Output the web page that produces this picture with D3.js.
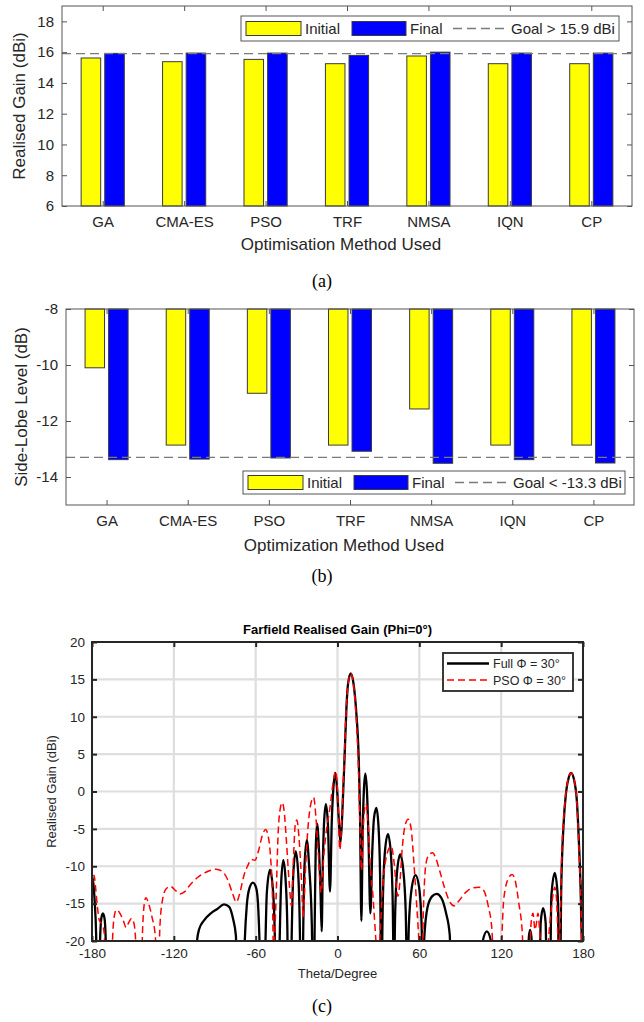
<!DOCTYPE html>
<html><head><meta charset="utf-8">
<script src="https://cdn.jsdelivr.net/npm/d3@7"></script>
<style>
html,body{margin:0;padding:0;background:#fff;}
svg{display:block;}
text{font-family:"Liberation Sans",Arial,Helvetica,sans-serif;}
</style></head>
<body>
<svg id="chart" width="644" height="1022"></svg>
<script>
// ---------- Data ----------
const categories = ["GA","CMA-ES","PSO","TRF","NMSA","IQN","CP"];
const gainInitial = [15.62,15.38,15.53,15.25,15.75,15.25,15.25];
const gainFinal   = [15.92,15.94,15.94,15.79,16.0,15.94,15.94];
const gainGoal = 15.9;
const gainTicks = [6,8,10,12,14,16,18];

const sllInitial = [-10.1,-12.86,-11.01,-12.86,-11.57,-12.86,-12.86];
const sllFinal   = [-13.38,-13.36,-13.32,-13.08,-13.51,-13.38,-13.5];
const sllGoal = -13.3;
const sllTicks = [-14,-12,-10,-8];

const thetaTicks = [-180,-120,-60,0,60,120,180];
const farGainTicks = [-20,-15,-10,-5,0,5,10,15,20];

const fullTheta = [-180,-179,-178,-177,-176.3,-174.5,-174,-173.2,-172,-170.8,-170,-169.5,-104,-103,-101.4,-97.7,-92.9,-88,-83.2,-79.6,-76.5,-74.5,-73.5,
 -69,-68,-66.5,-64.5,-62,-59.5,-58,-57.2,-56.5,
 -53.5,-52.8,-51.8,-49.5,-47.2,-46,-45.3,
 -43,-42.3,-41.3,-39.7,-38,-36.8,-36.2,
 -34.2,-33.5,-32.4,-30.6,-28.8,-27.6,-27,
 -25.7,-25,-24.2,-22.5,-20.8,-18.8,-18,
 -17.3,-16.6,-16,-15,-13.8,-12.5,-11.6,
 -10.8,-9.8,-8.5,-7,-5.5,
 -4.2,-3,-1.5,-0.2,1,2.2,
 3.5,5.3,6.6,7.8,9.7,11.7,13.8,15.5,16.5,17.5,
 18.5,19.3,20.4,21.6,22.7,24.1,
 25.5,26.8,28.5,30,31.2,32.2,
 33.2,34.8,37,39.2,40.5,41.4,
 42.2,43.8,46,48.2,50,51.2,
 52.3,54.5,57.2,59.8,61.7,62.6,
 63.5,66,69.5,72.7,76,79.5,82.3,83.5,
 105.5,106.5,109.5,112.5,114,
 139.5,140.3,141.2,142.2,143,
 148,149,150.8,152.6,153.5,
 155.8,156.8,159.3,161.5,162.5,
 163.2,164,165.7,167.6,169.6,171.3,173.4,175.6,177,178.3,179.2,179.6,180];
const fullGain = [-11.3,-12.3,-14.8,-19,-26,-26,-19.5,-17,-16.3,-17,-19.5,-26,-26,-20,-18.4,-17.2,-16.3,-15.7,-15.1,-15.4,-17.1,-19.3,-26,
 -26,-20,-15.2,-12.9,-12.2,-13,-16,-20,-26,
 -26,-20,-13.5,-10.5,-13.5,-19,-26,
 -26,-19,-12.2,-9.2,-12,-18,-26,
 -26,-18.5,-11,-8,-11,-18.5,-26,
 -26,-17,-10,-6.5,-10,-18,-26,
 -26,-16,-8,-4.3,-7,-13,-18.7,
 -10,-4,-1.7,-4.5,-13.4,
 -4,0.5,2.5,0,-4,-6.8,
 -3,5.2,11.4,14.5,15.8,14.5,10.5,4.7,-3,-17.3,
 -5,0,2.4,0,-6,-16.3,
 -8,-3.5,-2.2,-4.5,-11,-26,
 -15,-8,-5.7,-8.5,-15,-26,
 -17,-10.5,-8.4,-10.5,-16,-26,
 -18,-12.8,-11.2,-12.8,-18,-26,
 -20,-15.5,-14,-13.7,-14.2,-16.2,-19.2,-26,
 -26,-20,-18.7,-20,-26,
 -26,-19.5,-18.5,-19.5,-26,
 -26,-17.5,-15.6,-17.5,-26,
 -26,-14,-10.9,-14,-26,
 -26,-13.4,-4.6,-0.1,1.9,2.5,1.6,-1.5,-6.8,-13.4,-21,-26,-11.8];

const psoTheta = [-180,-178.5,-177.3,-176,-174.5,-172.5,-171,-170,
 -166,-165,-163.5,-162,-159.5,-157,-155,-153,-151,-149.3,-148,-147,
 -144,-143,-141.5,-140.5,-138.5,-136,-133.5,-132.5,
 -131.5,-130.2,-128,-125.6,-122.5,-118.5,-115.5,-112,-109,-102.6,-95.3,-89,-84.5,-80.5,-77,-74.2,-71.5,-68.7,-66,-63,-60.5,-58,-55,-52.7,-50.5,-49,-47.7,-46.9,
 -45,-43.5,-42,-40.6,-39,-37.5,-35.5,-33.7,-32.3,-31,-29.8,-28.3,-26.5,-25.1,-23.5,-21.5,-19.5,-17.5,-15.8,-14,-12,-10,-8,-5.6,-3.5,-1.3,0.3,1.7,3.3,
 5,6.4,7.7,9.7,11.7,13.5,15,16.3,17.6,19,20.8,22.5,24,26,28,29.8,
 31.5,33.5,36,39.3,41.5,43,44.3,45.8,47.5,49.5,51.8,54,56,58,59.5,61,
 61.7,62.8,64.9,67.3,69.8,72,74.6,78.2,81.9,85.5,89.1,94,98.9,103.7,107.4,110.5,113,114.6,
 119.5,121.9,125.6,128,130.4,132.9,135.3,136.5,
 140.5,142,143.3,144.8,145.7,147,148.3,149.5,
 153,155.5,157.5,159.3,160.8,162.2,163.5,164.5,165.7,167.6,169.6,171.4,173.6,175.6,177,178.5,179.4,180];
const psoGain = [-12.8,-11.2,-13,-15.5,-17.3,-17.8,-19,-26,
 -26,-20,-16.5,-15.8,-16.3,-17.3,-18.2,-17.5,-17,-17.6,-20,-26,
 -26,-19,-14.8,-14.2,-15,-16.8,-19.5,-26,
 -26,-18,-14.2,-13,-12.7,-13.3,-13.7,-13.4,-12.7,-11.5,-10.7,-10.4,-10.7,-11.8,-13.6,-14.8,-13.5,-11.3,-10,-9.1,-9.2,-8,-5.8,-5.1,-6.3,-9,-14,-22,
 -14,-5.5,-2.3,-1.5,-2.8,-6.5,-12,-15.3,-9,-4.5,-3.8,-6,-11.5,-16.8,-10.5,-4.5,-1.6,-0.8,-3.5,-8.5,-13.5,-8.5,-5,-2.3,0.8,2.7,-1,-7.8,-3,
 4.5,11,14.3,15.8,14.4,10.5,5,-3,-10.5,-4.5,-1.6,-4.5,-10,-14,-19.5,-24,
 -18,-12,-8.6,-7.3,-9.5,-12.5,-14,-12,-7.5,-4.6,-3.7,-5,-9.5,-15,-19.5,-26,
 -26,-17,-9.6,-8.4,-8.2,-8.9,-10.4,-12.7,-14.6,-15.3,-14.6,-13.5,-12.9,-12.8,-13.3,-15.3,-18,-22,
 -22,-14.4,-11.5,-11.1,-12,-14.9,-18.4,-22,
 -22,-17.5,-16.3,-18.5,-17.8,-16.3,-19,-23,
 -23,-18,-14.5,-12.8,-15,-22,-16,-8,-4,0,2,2.5,1.5,-1.8,-7.5,-15,-22,-14.5];

// ---------- Drawing ----------
const svg = d3.select("#chart");
svg.append("rect").attr("width",644).attr("height",1022).attr("fill","#fff");
const txtCol = "#262626";
const numFmt = d => String(d);   // plain hyphen-minus, no decimals

function barPanel(cfg){
  const g = svg.append("g");
  const x = d3.scaleLinear().domain([0.5, categories.length + 0.5]).range([cfg.left, cfg.right]);
  const y = d3.scaleLinear().domain(cfg.ydom).range([cfg.bottom, cfg.top]);
  const bw = x(1.24) - x(1);
  const off = 0.145;
  const base = cfg.base;
  const bars = [{vals: cfg.initial, col: "#ffff00", dx: -off}, {vals: cfg.final, col: "#0000ff", dx: off}];
  bars.forEach(s => {
    g.selectAll(null).data(s.vals).enter().append("rect")
      .attr("x", (d,i) => x(i + 1 + s.dx) - bw/2)
      .attr("width", bw)
      .attr("y", d => Math.min(y(d), y(base)))
      .attr("height", d => Math.abs(y(d) - y(base)))
      .attr("fill", s.col).attr("stroke", "#3a3a3a").attr("stroke-width", 1);
  });
  // goal line
  g.append("line").attr("x1", cfg.left).attr("x2", cfg.right)
    .attr("y1", y(cfg.goal)).attr("y2", y(cfg.goal))
    .attr("stroke", "#7a7a7a").attr("stroke-width", 1.3).attr("stroke-dasharray", "9,5");
  // axes
  const idx = d3.range(1, categories.length + 1);
  const ax = [
    g.append("g").attr("transform", `translate(0,${cfg.bottom})`).call(d3.axisBottom(x).tickValues(idx).tickFormat(i => categories[i-1]).tickSize(-5).tickPadding(10)),
    g.append("g").attr("transform", `translate(0,${cfg.top})`).call(d3.axisTop(x).tickValues(idx).tickFormat("").tickSize(-5)),
    g.append("g").attr("transform", `translate(${cfg.left},0)`).call(d3.axisLeft(y).tickValues(cfg.ticks).tickFormat(numFmt).tickSize(-5).tickPadding(8)),
    g.append("g").attr("transform", `translate(${cfg.right},0)`).call(d3.axisRight(y).tickValues(cfg.ticks).tickFormat("").tickSize(-5))
  ];
  ax.forEach(a => {
    a.select(".domain").remove();
    a.selectAll("line").attr("stroke", "#555");
    a.selectAll("text").attr("fill", txtCol).style("font-size", "15px");
  });
  g.append("rect").attr("x", cfg.left).attr("y", cfg.top).attr("width", cfg.right - cfg.left).attr("height", cfg.bottom - cfg.top)
    .attr("fill", "none").attr("stroke", "#555").attr("stroke-width", 1);
  // titles
  g.append("text").attr("x", (cfg.left + cfg.right)/2 - 6).attr("y", cfg.xTitleY).attr("text-anchor", "middle")
    .attr("fill", txtCol).style("font-size", "17px").text(cfg.xTitle);
  g.append("text").attr("transform", `translate(${cfg.yTitleX},${(cfg.top + cfg.bottom)/2}) rotate(-90)`)
    .attr("text-anchor", "middle").attr("fill", txtCol).style("font-size", "17px").text(cfg.yTitle);
  // legend
  const L = cfg.legend;
  const lg = g.append("g");
  lg.append("rect").attr("x", L.x).attr("y", L.y).attr("width", L.w).attr("height", L.h)
    .attr("fill", "#fff").attr("stroke", "#555").attr("stroke-width", 1);
  const cy = L.y + L.h/2;
  lg.append("rect").attr("x", L.x + 5).attr("y", cy - 7).attr("width", 55).attr("height", 14).attr("fill", "#ffff00").attr("stroke", "#3a3a3a");
  lg.append("text").attr("x", L.x + 64).attr("y", cy + 5.5).attr("fill", txtCol).style("font-size", "15px").text("Initial");
  lg.append("rect").attr("x", L.x + 111).attr("y", cy - 7).attr("width", 54).attr("height", 14).attr("fill", "#0000ff").attr("stroke", "#3a3a3a");
  lg.append("text").attr("x", L.x + 169).attr("y", cy + 5.5).attr("fill", txtCol).style("font-size", "15px").text("Final");
  lg.append("line").attr("x1", L.x + 212).attr("x2", L.x + 266).attr("y1", cy).attr("y2", cy)
    .attr("stroke", "#7a7a7a").attr("stroke-width", 1.3).attr("stroke-dasharray", "9,5");
  lg.append("text").attr("x", L.x + 270).attr("y", cy + 5.5).attr("fill", txtCol).style("font-size", "15px").text(L.label);
  // caption
  svg.append("text").attr("x", 322).attr("y", cfg.capY).attr("text-anchor", "middle")
    .style("font-family", "'Liberation Serif','Times New Roman',serif").style("font-size", "18px").attr("fill", "#000").text(cfg.cap);
}

barPanel({left: 62, right: 632, top: 6, bottom: 206, ydom: [6, 19], base: 6, ticks: gainTicks,
  initial: gainInitial, final: gainFinal, goal: gainGoal,
  xTitle: "Optimisation Method Used", yTitle: "Realised Gain (dBi)", xTitleY: 250, yTitleX: 25,
  legend: {x: 241, y: 16, w: 378, h: 25, label: "Goal > 15.9 dBi"}, cap: "(a)", capY: 287});

barPanel({left: 66, right: 634, top: 309, bottom: 505, ydom: [-15, -8], base: -8, ticks: sllTicks,
  initial: sllInitial, final: sllFinal, goal: sllGoal,
  xTitle: "Optimization Method Used", yTitle: "Side-Lobe Level (dB)", xTitleY: 551, yTitleX: 27,
  legend: {x: 243, y: 471, w: 382, h: 23, label: "Goal < -13.3 dBi"}, cap: "(b)", capY: 582});

// ---------- Panel (c) ----------
(function(){
  const left = 92, right = 583, top = 642, bottom = 941;
  const g = svg.append("g");
  const x = d3.scaleLinear().domain([-180, 180]).range([left, right]);
  const y = d3.scaleLinear().domain([-20, 20]).range([bottom, top]);
  // grid
  g.append("g").selectAll("line").data(thetaTicks).enter().append("line")
    .attr("x1", d => x(d)).attr("x2", d => x(d)).attr("y1", top).attr("y2", bottom)
    .attr("stroke", "#dedede").attr("stroke-width", 2.2);
  g.append("g").selectAll("line").data(farGainTicks).enter().append("line")
    .attr("x1", left).attr("x2", right).attr("y1", d => y(d)).attr("y2", d => y(d))
    .attr("stroke", "#dedede").attr("stroke-width", 2.2);
  const clipId = "clipC";
  svg.append("defs").append("clipPath").attr("id", clipId).append("rect")
    .attr("x", left).attr("y", top).attr("width", right - left).attr("height", bottom - top);
  const line = d3.line().x(d => x(d[0])).y(d => y(d[1])).curve(d3.curveMonotoneX);
  const pso = psoTheta.map((t,i) => [t, psoGain[i]]);
  const full = fullTheta.map((t,i) => [t, fullGain[i]]);
  const pg = g.append("g").attr("clip-path", `url(#${clipId})`);
  pg.append("path").datum(full).attr("d", line).attr("fill", "none").attr("stroke", "#000").attr("stroke-width", 2.3);
  pg.append("path").datum(pso).attr("d", line).attr("fill", "none").attr("stroke", "#ff0000").attr("stroke-width", 1.5).attr("stroke-dasharray", "7,4");
  // axes
  const ax = [
    g.append("g").attr("transform", `translate(0,${bottom})`).call(d3.axisBottom(x).tickValues(thetaTicks).tickFormat(numFmt).tickSize(-5).tickPadding(7)),
    g.append("g").attr("transform", `translate(0,${top})`).call(d3.axisTop(x).tickValues(thetaTicks).tickFormat("").tickSize(-5)),
    g.append("g").attr("transform", `translate(${left},0)`).call(d3.axisLeft(y).tickValues(farGainTicks).tickFormat(numFmt).tickSize(-5).tickPadding(7)),
    g.append("g").attr("transform", `translate(${right},0)`).call(d3.axisRight(y).tickValues(farGainTicks).tickFormat("").tickSize(-5))
  ];
  ax.forEach(a => {
    a.select(".domain").remove();
    a.selectAll("line").attr("stroke", "#262626").attr("stroke-width", 2);
    a.selectAll("text").attr("fill", txtCol).style("font-size", "13.5px");
  });
  g.append("rect").attr("x", left).attr("y", top).attr("width", right - left).attr("height", bottom - top)
    .attr("fill", "none").attr("stroke", "#262626").attr("stroke-width", 2);
  g.append("text").attr("x", (left + right)/2).attr("y", 634).attr("text-anchor", "middle")
    .attr("fill", "#000").style("font-size", "13px").style("font-weight", "bold").text("Farfield Realised Gain (Phi=0°)");
  g.append("text").attr("x", (left + right)/2).attr("y", 978).attr("text-anchor", "middle")
    .attr("fill", txtCol).style("font-size", "13px").text("Theta/Degree");
  g.append("text").attr("transform", `translate(56,${(top + bottom)/2}) rotate(-90)`).attr("text-anchor", "middle")
    .attr("fill", txtCol).style("font-size", "13px").text("Realised Gain (dBi)");
  // legend
  const lg = g.append("g");
  lg.append("rect").attr("x", 443).attr("y", 653).attr("width", 130).attr("height", 38)
    .attr("fill", "#fff").attr("stroke", "#262626").attr("stroke-width", 1.8);
  lg.append("line").attr("x1", 447).attr("x2", 489).attr("y1", 663.5).attr("y2", 663.5).attr("stroke", "#000").attr("stroke-width", 2.3);
  lg.append("text").attr("x", 493).attr("y", 668).attr("fill", txtCol).style("font-size", "12.5px").text("Full Φ = 30°");
  lg.append("line").attr("x1", 447).attr("x2", 489).attr("y1", 680).attr("y2", 680).attr("stroke", "#ff0000").attr("stroke-width", 1.5).attr("stroke-dasharray", "7,4");
  lg.append("text").attr("x", 493).attr("y", 684.5).attr("fill", txtCol).style("font-size", "12.5px").text("PSO Φ = 30°");
  svg.append("text").attr("x", 322).attr("y", 1012).attr("text-anchor", "middle")
    .style("font-family", "'Liberation Serif','Times New Roman',serif").style("font-size", "18px").attr("fill", "#000").text("(c)");
})();
</script>
</body></html>
